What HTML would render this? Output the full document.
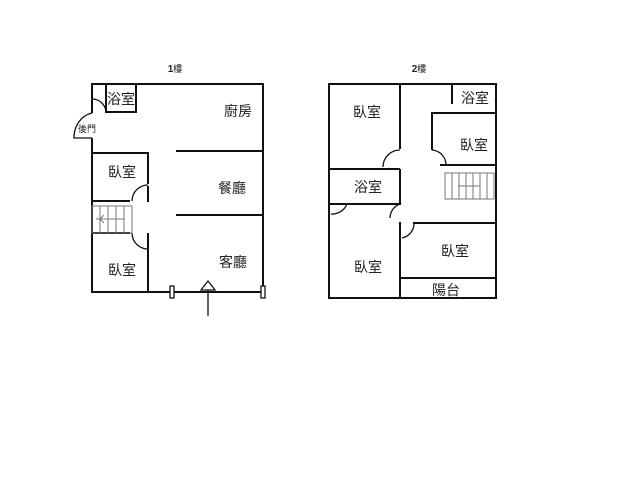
<!DOCTYPE html>
<html><head><meta charset="utf-8"><style>
html,body{margin:0;padding:0;background:#fff;width:640px;height:480px;overflow:hidden}
text{font-family:"Liberation Sans","Noto Sans CJK TC",sans-serif;fill:#222}
</style></head><body>
<svg width="640" height="480" viewBox="0 0 640 480" xmlns="http://www.w3.org/2000/svg">
<g stroke="#111" stroke-width="2" fill="none">
<!-- 1F -->
<path d="M92 113 V84 H263 V292 H92 V138"/>
<path d="M92 113 A22 25 0 0 0 74 138 H92" stroke-width="1.3"/>
<path d="M106 84 V112 H136 V84"/>
<path d="M106 112 A14 14 0 0 0 93 99" stroke-width="1.3"/>
<path d="M176 151 H263 M176 215 H263"/>
<path d="M92 153 H148 V184 M148 186 V202 M92 201 H130"/>
<path d="M148 185 A16 16 0 0 0 132 201" stroke-width="1.3"/>
<path d="M92 233 H130 M148 233 V292"/>
<path d="M148 249 A16 16 0 0 1 132 233" stroke-width="1.3"/>
</g>
<g stroke="#777" stroke-width="1" fill="none">
<rect x="92" y="206" width="40" height="27"/>
<path d="M100 206V233M108 206V233M116 206V233M124 206V233M96 219H124"/>
<path d="M100 219 L104 215 M100 219 L104 223"/>
</g>
<g stroke="#111" stroke-width="1.3" fill="#fff">
<rect x="170" y="286" width="4" height="12"/>
<rect x="261" y="286" width="4" height="12"/>
<path d="M201 290 L208 281 L215 290 Z" fill="#fff"/>
<path d="M208 290 V316" fill="none"/>
</g>
<!-- 2F -->
<g stroke="#111" stroke-width="2" fill="none">
<rect x="329" y="84" width="167" height="214"/>
<path d="M400 84 V149 M400 169 H329 M329 204 H400 V169 M452 84 V104"/>
<path d="M432 150 V113 H496 M440 165 H496"/>
<path d="M400 222 V298 M413 223 H496 M400 278 H496"/>
</g>
<g stroke="#111" stroke-width="1.3" fill="none">
<path d="M400 150 A17 17 0 0 0 383 167"/>
<path d="M432 150 A15 15 0 0 1 446 165"/>
<path d="M400 204 A15 15 0 0 0 390 218"/>
<path d="M347 204 A16 16 0 0 1 331 214"/>
<path d="M402 238 A15 15 0 0 0 414 224"/>
</g>
<g stroke="#777" stroke-width="1" fill="none">
<rect x="445" y="173" width="49" height="26"/>
<path d="M452 173V199M459 173V199M466 173V199M473 173V199M480 173V199M487 173V199M458 186H480"/>
</g>
<text x="175" y="72" font-size="10" text-anchor="middle" font-weight="bold">1<tspan font-weight="normal" font-size="9">樓</tspan></text>
<text x="419" y="72" font-size="10" text-anchor="middle" font-weight="bold">2<tspan font-weight="normal" font-size="9">樓</tspan></text>
<g font-size="14" text-anchor="middle">
<text x="121" y="104">浴室</text>
<text x="238" y="116">廚房</text>
<text x="232" y="193">餐廳</text>
<text x="233" y="267">客廳</text>
<text x="122" y="177">臥室</text>
<text x="122" y="275">臥室</text>
<text x="367" y="117">臥室</text>
<text x="475" y="103">浴室</text>
<text x="474" y="150">臥室</text>
<text x="368" y="192">浴室</text>
<text x="368" y="272">臥室</text>
<text x="455" y="256">臥室</text>
<text x="446" y="295">陽台</text>
</g>
<text x="87" y="132" font-size="9" text-anchor="middle">後門</text>
</svg>
</body></html>
